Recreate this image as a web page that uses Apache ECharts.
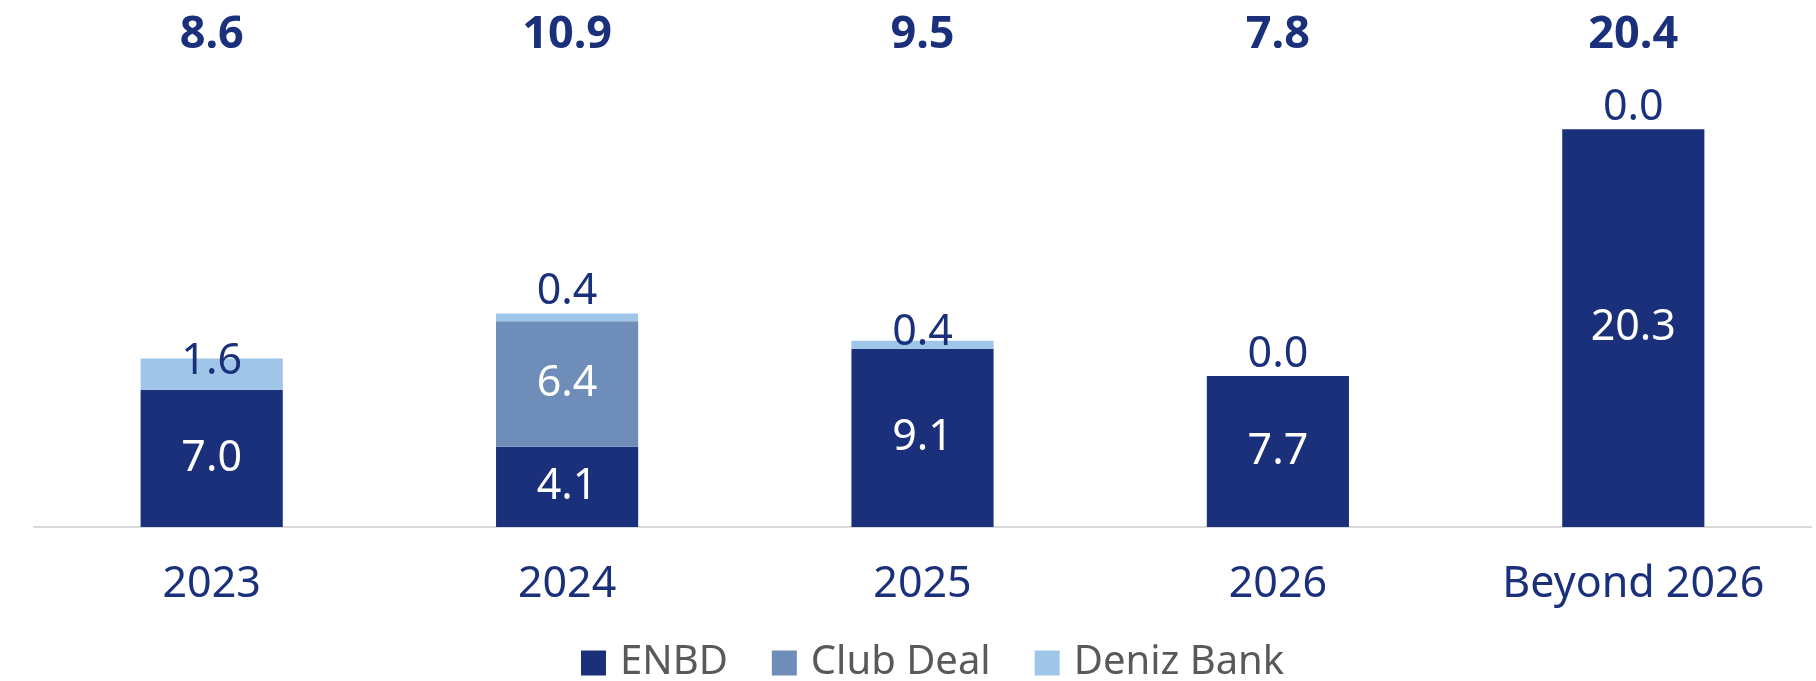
<!DOCTYPE html>
<html>
<head>
<meta charset="utf-8">
<script src="https://cdn.jsdelivr.net/npm/echarts@6/dist/echarts.min.js"></script>
<style>
  html, body { margin: 0; padding: 0; background: #fff; }
  #app { width: 1816px; height: 681px; }
</style>
</head>
<body>
<div id="app"></div>
<script>
// maturity profile data
var categories = ['2023', '2024', '2025', '2026', 'Beyond 2026'];
var enbd      = [7.0, 4.1, 9.1, 7.7, 20.3];
var clubDeal  = [0, 6.4, 0, 0, 0];
var denizBank = [1.6, 0.4, 0.4, 0.0, 0.0];
var totals    = ['8.6', '10.9', '9.5', '7.8', '20.4'];

var navy = '#1b307a';
var font = 'Noto Sans';

var myChart = echarts.init(document.getElementById('app'));

// Deniz labels sit a little differently per bar, like in the original
var denizData = denizBank.map(function (v, i) {
    if (i === 0) {
        return { value: v, label: { position: 'inside', offset: [0, -12] } };
    }
    if (i === 2) {
        return { value: v, label: { offset: [0, 13] } };
    }
    return v;
});

var option = {
    animation: false,
    grid: {
        left: 34,
        right: 5,
        top: 90,
        bottom: 154
    },
    legend: {
        data: ['ENBD', 'Club Deal', 'Deniz Bank'],
        left: 576,
        top: 638,
        icon: 'rect',
        itemWidth: 25,
        itemHeight: 25,
        itemGap: 44,
        textStyle: {
            fontFamily: font,
            fontSize: 40,
            color: '#595959',
            padding: [0, 0, 0, 9]
        }
    },
    xAxis: [
        {
            type: 'category',
            data: categories,
            axisLine: { lineStyle: { color: '#d9d9d9', width: 2 } },
            axisTick: { show: false },
            axisLabel: {
                margin: 36,
                fontFamily: font,
                fontSize: 43,
                color: navy
            }
        },
        {
            type: 'category',
            position: 'top',
            data: totals,
            axisLine: { show: false },
            axisTick: { show: false },
            axisLabel: {
                margin: 32,
                fontFamily: font,
                fontSize: 45,
                fontWeight: 'bold',
                color: navy
            }
        }
    ],
    yAxis: {
        type: 'value',
        min: 0,
        max: 22.3,
        show: false,
        splitLine: { show: false }
    },
    series: [
        {
            name: 'ENBD',
            type: 'bar',
            stack: 'total',
            barWidth: '40%',
            data: enbd,
            itemStyle: { color: navy },
            label: {
                show: true,
                position: 'inside',
                fontFamily: font,
                fontSize: 43,
                color: '#fff',
                formatter: function (p) { return p.value.toFixed(1); }
            }
        },
        {
            name: 'Club Deal',
            type: 'bar',
            stack: 'total',
            data: clubDeal,
            itemStyle: { color: '#6e8db9' },
            label: {
                show: true,
                position: 'inside',
                fontFamily: font,
                fontSize: 43,
                color: '#fff',
                formatter: function (p) { return p.value > 0 ? p.value.toFixed(1) : ''; }
            }
        },
        {
            name: 'Deniz Bank',
            type: 'bar',
            stack: 'total',
            data: denizData,
            itemStyle: { color: '#9fc5e8' },
            label: {
                show: true,
                position: 'top',
                distance: 0,
                fontFamily: font,
                fontSize: 43,
                color: navy,
                formatter: function (p) { return p.value.toFixed(1); }
            }
        }
    ]
};

myChart.setOption(option);
</script>
</body>
</html>
